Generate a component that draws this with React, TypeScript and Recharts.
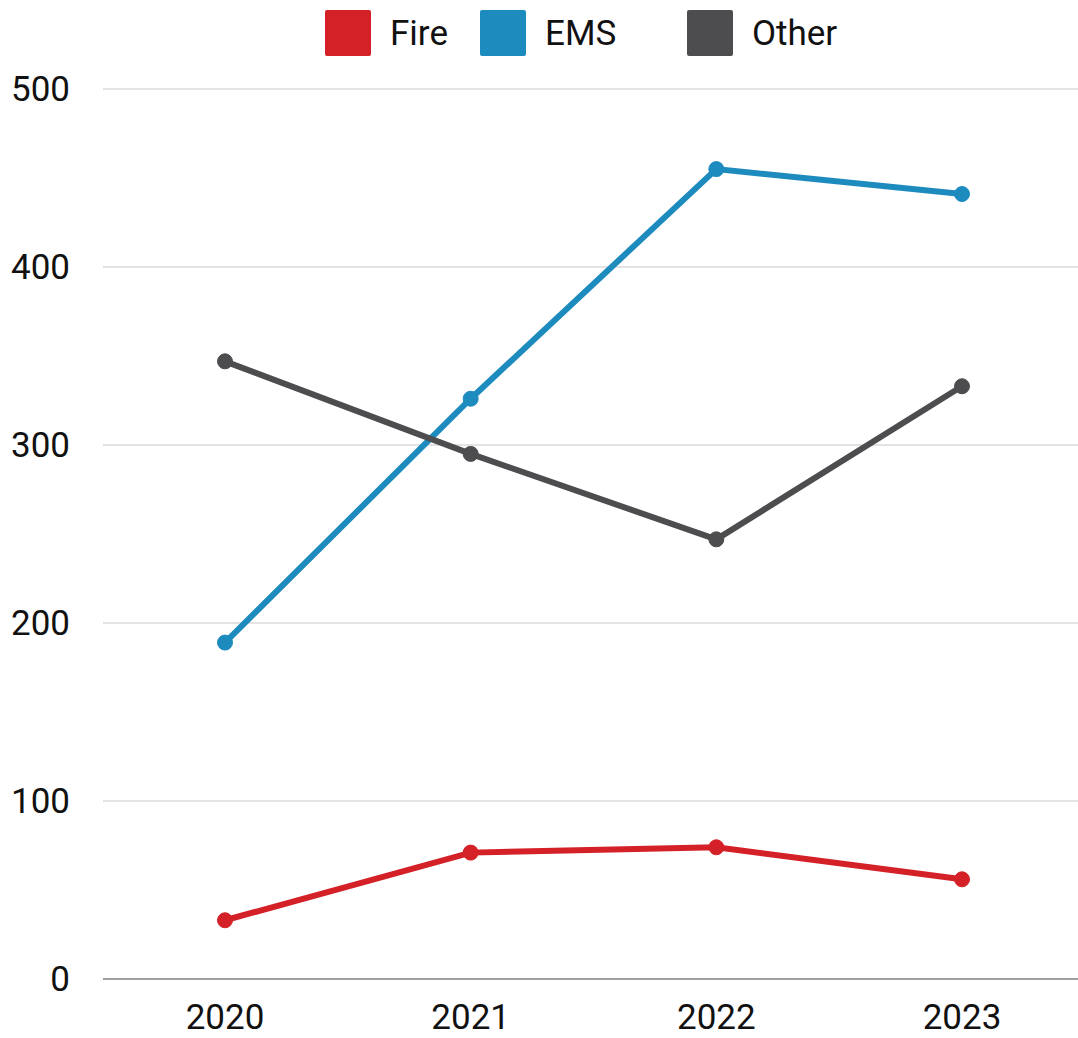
import React from "react"
import {
  LineChart,
  Line,
  XAxis,
  YAxis,
  CartesianGrid,
  Legend,
} from "recharts"

const years = ["2020", "2021", "2022", "2023"]
const fire = [33, 71, 74, 56]
const ems = [189, 326, 455, 441]
const other = [347, 295, 247, 333]
const yTicks = [0, 100, 200, 300, 400, 500]

const series = [
  { key: "Fire", values: fire, color: "#D42027", itemWidth: 155 },
  { key: "EMS", values: ems, color: "#1E8BBF", itemWidth: 207 },
  { key: "Other", values: other, color: "#4D4D4F", itemWidth: 170 },
]

const data = years.map((year, i) => {
  const row: Record<string, string | number> = { year }
  series.forEach((s) => {
    row[s.key] = s.values[i]
  })
  return row
})

const FONT = "Roboto, 'Noto Sans', sans-serif"

const LegendContent = () => (
  <div
    style={{
      height: 89,
      display: "flex",
      justifyContent: "flex-start",
      alignItems: "flex-start",
      paddingTop: 10,
      paddingLeft: 325,
      boxSizing: "border-box",
      fontFamily: FONT,
      fontSize: 35,
      color: "#111",
    }}
  >
    {series.map((s) => (
      <div
        key={s.key}
        style={{ display: "flex", alignItems: "center", width: s.itemWidth }}
      >
        <span
          style={{
            width: 46,
            height: 46,
            background: s.color,
            borderRadius: 2,
            display: "inline-block",
            marginRight: 19,
          }}
        />
        <span>{s.key}</span>
      </div>
    ))}
  </div>
)

const App: React.FC = () => {
  return (
    <div style={{ position: "absolute", left: 0, top: 0, width: 1078, height: 1038, background: "#fff" }}>
      <LineChart
        width={1078}
        height={1038}
        data={data}
        margin={{ top: 0, right: 0, left: 0, bottom: 0 }}
      >
        <Legend
          verticalAlign="top"
          align="center"
          content={<LegendContent />}
          wrapperStyle={{ top: 0, left: 0, width: 1078 }}
        />
        <CartesianGrid vertical={false} stroke="#C8C8C8" strokeWidth={1.2} />
        <XAxis
          dataKey="year"
          padding={{ left: 122, right: 116 }}
          height={59}
          axisLine={{ stroke: "#888", strokeWidth: 1.5 }}
          tickLine={false}
          tickSize={0}
          tickMargin={25}
          tick={{ fill: "#111", fontSize: 35, fontFamily: FONT }}
        />
        <YAxis
          width={103}
          domain={[0, 500]}
          ticks={yTicks}
          axisLine={false}
          tickLine={false}
          tickSize={0}
          tickMargin={33}
          tick={{ fill: "#111", fontSize: 35, fontFamily: FONT }}
        />
        {series.map((s) => (
          <Line
            key={s.key}
            type="linear"
            dataKey={s.key}
            stroke={s.color}
            strokeWidth={6}
            dot={{ r: 7.5, fill: s.color, stroke: s.color, strokeWidth: 1 }}
            activeDot={false}
            isAnimationActive={false}
          />
        ))}
      </LineChart>
    </div>
  )
}

export default App
